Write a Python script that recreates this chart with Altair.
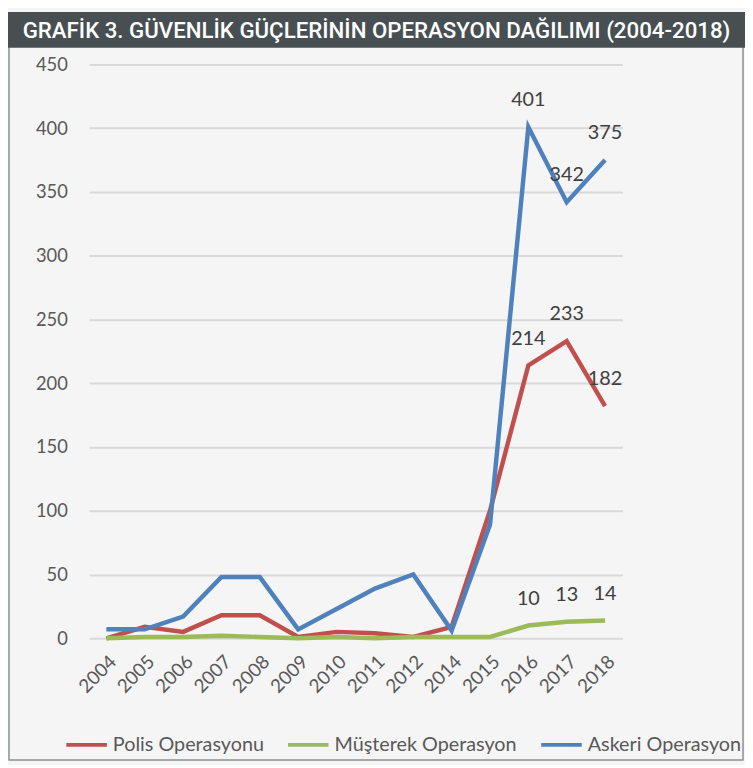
import altair as alt
import pandas as pd

years = ["2004", "2005", "2006", "2007", "2008", "2009", "2010", "2011",
         "2012", "2014", "2015", "2016", "2017", "2018"]
polis = [0, 9, 5, 18, 18, 1, 5, 4, 1, 9, 100, 214, 233, 182]
musterek = [0, 1, 1, 2, 1, 0, 1, 0, 1, 1, 1, 10, 13, 14]
askeri = [7, 7, 17, 48, 48, 7, 23, 39, 50, 6, 89, 401, 342, 375]
series = ["Polis Operasyonu", "Müşterek Operasyon", "Askeri Operasyon"]
colors = ["#c0504d", "#9bbb59", "#4f81bd"]
labelled_years = ["2016", "2017", "2018"]
title_text = "GRAFİK 3. GÜVENLİK GÜÇLERİNİN OPERASYON DAĞILIMI (2004-2018)"

rows = []
for name, vals in zip(series, [polis, musterek, askeri]):
    for y, v in zip(years, vals):
        rows.append({"Yıl": y, "Seri": name, "Değer": v,
                     "Etiket": str(v) if y in labelled_years else ""})
df = pd.DataFrame(rows)

FONT = "Lato"
W, H = 539, 580
LEFT, TOP = 82, 53
TOTAL_W, TOTAL_H = 745, 757

x = alt.X("Yıl:O", sort=years, title=None,
          scale=alt.Scale(type="point", padding=0.45),
          axis=alt.Axis(labelAngle=-45, labelFontSize=19, labelColor="#595959",
                        labelFont=FONT, domain=False, ticks=False, labelPadding=14))
y = alt.Y("Değer:Q", title=None,
          scale=alt.Scale(domain=[0, 450], nice=False),
          axis=alt.Axis(values=list(range(0, 451, 50)), labelFontSize=18.5,
                        labelColor="#595959", labelFont=FONT, domain=False,
                        ticks=False, labelPadding=22, gridColor="#d9d9d9",
                        gridWidth=2))
color = alt.Color("Seri:N", sort=series,
                  scale=alt.Scale(domain=series, range=colors),
                  legend=alt.Legend(title=None, orient="none", direction="horizontal",
                                    legendX=-25, legendY=665, padding=0,
                                    symbolType="stroke",
                                    symbolStrokeWidth=4, symbolSize=1680,
                                    labelFontSize=20, labelColor="#595959",
                                    labelFont=FONT, columnPadding=16,
                                    labelOffset=4, labelLimit=300))

lines = alt.Chart(df).mark_line(strokeWidth=4.5, strokeJoin="miter").encode(
    x=x, y=y, color=color, order=alt.Order("Seri:N"))

labels = alt.Chart(df).mark_text(dy=-27, fontSize=20, color="#404040",
                                 font=FONT).encode(
    x=alt.X("Yıl:O", sort=years), y="Değer:Q", text="Etiket:N")

deco = pd.DataFrame({"t": [title_text]})
bar = alt.Chart(deco).mark_rect(color="#474f52").encode(
    x=alt.value(-LEFT), x2=alt.value(TOTAL_W - LEFT),
    y=alt.value(-TOP), y2=alt.value(36 - TOP))
border = alt.Chart(deco).mark_rect(fill=None, stroke="#8a9094", strokeWidth=1.5).encode(
    x=alt.value(-LEFT + 1), x2=alt.value(TOTAL_W - LEFT - 2),
    y=alt.value(-TOP + 1), y2=alt.value(TOTAL_H - TOP - 1))
ttl = alt.Chart(deco).mark_text(color="white", fontSize=22.5, fontWeight=500,
                                font="Roboto", baseline="middle", align="center").encode(
    x=alt.value(TOTAL_W / 2 - LEFT), y=alt.value(19 - TOP), text="t:N")

chart = alt.layer(border, bar, ttl, lines, labels).properties(
    width=W, height=H,
    autosize=alt.AutoSizeParams(type="none"),
    padding={"left": LEFT, "top": TOP, "right": TOTAL_W - LEFT - W,
             "bottom": TOTAL_H - TOP - H},
    background="#f5f5f5",
).configure_view(stroke=None)

chart.save("out.html", embed_options={"renderer": "svg", "actions": False})
